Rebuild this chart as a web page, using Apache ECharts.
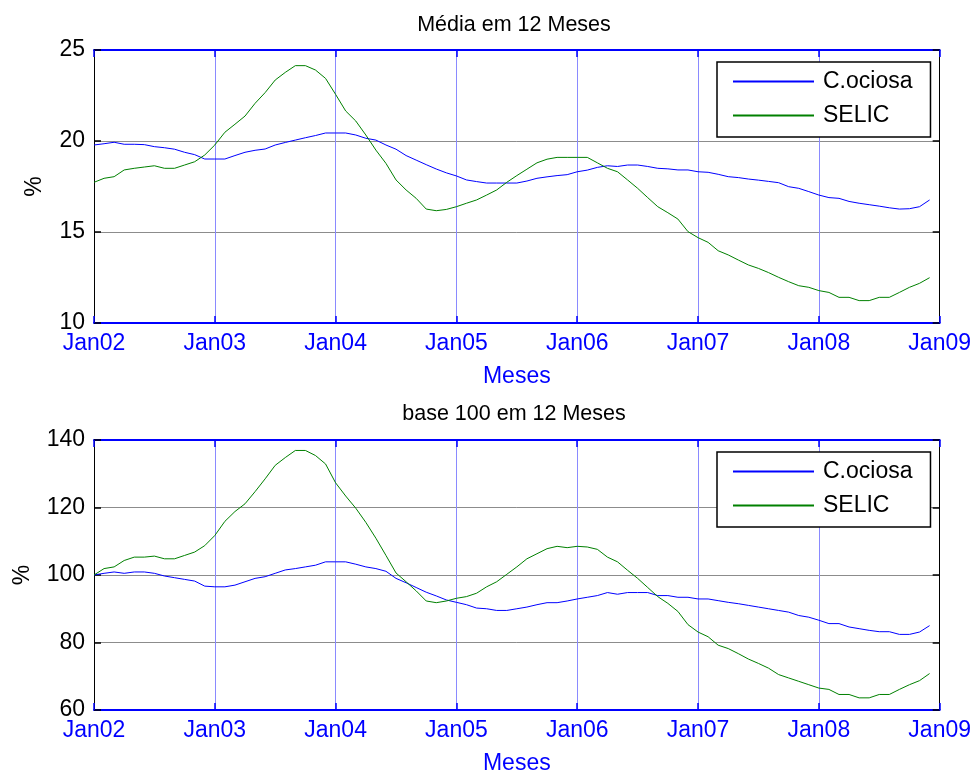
<!DOCTYPE html>
<html><head><meta charset="utf-8">
<script src="https://cdn.jsdelivr.net/npm/echarts@6/dist/echarts.min.js"></script>
<style>html,body{margin:0;padding:0;background:#fff}#c{width:974px;height:776px}</style>
</head><body><div id="c"></div>
<script>
const yearSuffix = ['02','03','04','05','06','07','08','09'];
const monthNames = ['Jan','Feb','Mar','Apr','May','Jun','Jul','Aug','Sep','Oct','Nov','Dec'];
const categories = [];
for (let y = 0; y < 7; y++) for (let m = 0; m < 12; m++) categories.push(monthNames[m] + yearSuffix[y]);
categories.push('Jan09');
const tickLabels = ['Jan02','Jan03','Jan04','Jan05','Jan06','Jan07','Jan08','Jan09'];

const titles = ['Média em 12 Meses', 'base 100 em 12 Meses'];
const seriesNames = ['C.ociosa', 'SELIC'];

const mediaOciosa = [19.78,19.85,19.93,19.82,19.82,19.80,19.69,19.63,19.55,19.38,19.25,19.01,
19.01,19.01,19.20,19.38,19.49,19.56,19.78,19.92,20.05,20.18,20.30,20.44,
20.44,20.44,20.33,20.15,20.05,19.78,19.55,19.20,18.95,18.70,18.46,18.25,
18.08,17.86,17.77,17.69,17.69,17.69,17.69,17.80,17.95,18.03,18.10,18.15,
18.31,18.40,18.55,18.64,18.60,18.68,18.68,18.60,18.50,18.47,18.41,18.41,
18.31,18.28,18.17,18.04,17.99,17.91,17.85,17.78,17.71,17.49,17.40,17.22,
17.03,16.89,16.85,16.68,16.58,16.50,16.42,16.33,16.26,16.28,16.39,16.76];

const mediaSelic = [17.73,17.95,18.04,18.41,18.50,18.57,18.64,18.50,18.50,18.68,18.86,19.23,
19.78,20.48,20.92,21.37,22.07,22.66,23.35,23.77,24.14,24.14,23.90,23.44,
22.56,21.65,21.10,20.33,19.50,18.77,17.86,17.31,16.85,16.26,16.17,16.24,
16.39,16.58,16.76,17.03,17.31,17.73,18.10,18.45,18.80,19.00,19.10,19.10,
19.10,19.10,18.80,18.50,18.31,17.86,17.40,16.89,16.39,16.06,15.71,15.02,
14.69,14.43,13.97,13.74,13.46,13.19,13.00,12.77,12.51,12.27,12.05,11.96,
11.78,11.68,11.41,11.41,11.23,11.23,11.41,11.41,11.68,11.96,12.18,12.49];

const baseOciosa = [100,100.5,100.9,100.5,100.9,100.9,100.5,99.7,99.2,98.7,98.2,96.7,
96.5,96.5,97.0,98.0,99.0,99.5,100.5,101.5,101.9,102.4,102.9,103.9,
103.9,103.9,103.2,102.4,101.9,101.1,99.0,97.7,96.3,94.9,93.8,92.6,
91.9,91.2,90.2,90.0,89.5,89.5,90.0,90.5,91.2,91.8,91.8,92.3,
92.9,93.4,93.9,94.8,94.3,94.8,94.8,94.8,93.9,93.9,93.4,93.4,
92.9,92.9,92.4,91.9,91.5,91.0,90.5,90.0,89.5,89.0,88.0,87.5,
86.6,85.6,85.6,84.6,84.1,83.6,83.2,83.2,82.4,82.4,83.1,85.0];

const baseSelic = [100,101.9,102.4,104.3,105.3,105.3,105.6,104.8,104.8,105.8,106.8,108.7,
111.7,115.9,118.8,121.1,124.7,128.5,132.5,134.8,136.9,136.9,135.4,132.9,
127.3,123.4,119.8,115.6,110.9,105.8,100.6,98.0,95.3,92.3,91.8,92.3,
93.1,93.6,94.6,96.5,98.0,100.2,102.4,104.8,106.3,107.8,108.5,108.1,
108.5,108.3,107.6,105.3,103.9,101.4,99.0,96.3,93.6,91.6,89.2,85.3,
83.1,81.7,79.2,78.2,76.7,75.1,73.8,72.4,70.5,69.5,68.5,67.5,
66.5,66.1,64.6,64.6,63.6,63.6,64.6,64.6,66.1,67.5,68.7,70.8];

const yRanges = [{min: 10, max: 25, interval: 5}, {min: 60, max: 140, interval: 20}];

const FONT = "'Liberation Sans', Arial, sans-serif";
const BLUE = '#0000ff';
const GREEN = '#008000';
const lineColors = [BLUE, GREEN];
const yearTick = (i) => i % 12 === 0;

const grids = [], xAxes = [], yAxes = [], series = [], legends = [], titleOpts = [];
const gridTops = [50, 440];
const yNameGaps = [48, 60];
const dataSets = [[mediaOciosa, mediaSelic], [baseOciosa, baseSelic]];

for (let g = 0; g < 2; g++) {
  grids.push({left: 94, right: 34, top: gridTops[g], height: 273, containLabel: false});
  titleOpts.push({
    text: titles[g], left: 514, top: g === 0 ? 14 : 403, textAlign: 'center', padding: 0,
    textStyle: {fontFamily: FONT, fontSize: 21.5, fontWeight: 'normal', color: '#000'}
  });
  xAxes.push({
    type: 'category', gridIndex: g, data: categories, boundaryGap: false, position: 'bottom',
    name: 'Meses', nameLocation: 'middle', nameGap: 42,
    nameTextStyle: {fontFamily: FONT, fontSize: 23, color: BLUE},
    axisLine: {show: true, lineStyle: {color: BLUE, width: 2}},
    axisTick: {show: true, inside: true, length: 7, interval: yearTick, lineStyle: {color: BLUE, width: 1.5}},
    axisLabel: {show: true, interval: yearTick, margin: 9, fontFamily: FONT, fontSize: 23, color: BLUE,
      formatter: (v) => tickLabels.indexOf(v) >= 0 ? v : ''},
    splitLine: {show: true, interval: yearTick, lineStyle: {color: '#8a8aff', width: 1}}
  });
  xAxes.push({
    type: 'category', gridIndex: g, data: categories, boundaryGap: false, position: 'top',
    axisLine: {show: true, lineStyle: {color: BLUE, width: 2}},
    axisTick: {show: true, inside: true, length: 7, interval: yearTick, lineStyle: {color: BLUE, width: 1.5}},
    axisLabel: {show: false}, splitLine: {show: false}
  });
  const r = yRanges[g];
  yAxes.push({
    type: 'value', gridIndex: g, min: r.min, max: r.max, interval: r.interval, position: 'left',
    name: '%', nameLocation: 'middle', nameGap: yNameGaps[g], nameRotate: 90,
    nameTextStyle: {fontFamily: FONT, fontSize: 23, color: '#000'},
    axisLine: {show: true, lineStyle: {color: '#000', width: 1}},
    axisTick: {show: true, inside: true, length: 7, lineStyle: {color: '#000', width: 1.5}},
    axisLabel: {show: true, margin: 9, fontFamily: FONT, fontSize: 23, color: '#000'},
    splitLine: {show: true, lineStyle: {color: '#8c8c8c', width: 1}}
  });
  yAxes.push({
    type: 'value', gridIndex: g, min: r.min, max: r.max, interval: r.interval, position: 'right',
    axisLine: {show: true, lineStyle: {color: '#000', width: 1}},
    axisTick: {show: true, inside: true, length: 7, lineStyle: {color: '#000', width: 1.5}},
    axisLabel: {show: false}, splitLine: {show: false}
  });
  for (let s = 0; s < 2; s++) {
    series.push({
      type: 'line', name: seriesNames[s], xAxisIndex: g * 2, yAxisIndex: g * 2, color: lineColors[s],
      data: dataSets[g][s], symbol: 'none', showSymbol: false, animation: false,
      lineStyle: {color: lineColors[s], width: 1}, itemStyle: {color: lineColors[s]}, z: 3
    });
  }
  legends.push({
    data: seriesNames,
    orient: 'vertical', left: 717, top: gridTops[g] + 12,
    padding: [8, 18, 10, 15], itemGap: 11, itemWidth: 81, itemHeight: 1,
    itemStyle: {borderWidth: 0},
    borderColor: '#000', borderWidth: 1.5, backgroundColor: '#fff', borderRadius: 0,
    selectedMode: false,
    textStyle: {fontFamily: FONT, fontSize: 23, lineHeight: 23, color: '#000', padding: [0, 0, 0, 4]}
  });
}

const chart = echarts.init(document.getElementById('c'), null, {renderer: 'canvas'});
chart.setOption({
  animation: false, backgroundColor: '#fff',
  title: titleOpts, grid: grids, xAxis: xAxes, yAxis: yAxes, legend: legends, series: series
});
</script></body></html>
